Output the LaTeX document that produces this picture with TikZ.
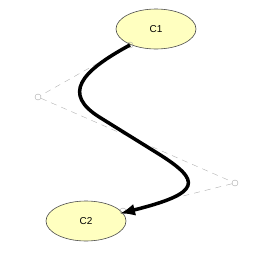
\documentclass[tikz,border=0pt]{standalone}
\usepackage{fontspec}
\setmainfont{Liberation Sans}
\usetikzlibrary{shapes.geometric,arrows.meta}
\definecolor{conceptfill}{RGB}{255,255,192}
\begin{document}
\begin{tikzpicture}[x=1pt,y=-1pt,>={Latex[length=15pt,width=12pt]}]

% --- Styles ---
\tikzset{
    concept/.style={ellipse, draw=black!70, fill=conceptfill, semithick,
        minimum width=80pt, minimum height=40pt, inner sep=0pt,
        font=\fontsize{10}{12}\selectfont},
    handle/.style={circle, draw=black!35, inner sep=0pt, minimum size=6pt},
    polygon/.style={draw=black!30, dash pattern=on 6pt off 5pt},
    curvearrow/.style={->, line width=3.5pt, draw=black}
}

% --- Canvas ---
\useasboundingbox (0,0) rectangle (260,265);

% --- Concepts ---
\node[concept] (c1) at (156,29) {C1};
\node[concept] (c2) at (86,221) {C2};

% --- Control handles ---
\node[handle] (k0) at (130,45) {};
\node[handle] (k1) at (38,97) {};
\node[handle] (k2) at (235,183) {};
\node[handle] (k3) at (123,211) {};

% Control polygon (dashed)
\draw[polygon] (k0) -- (k1) -- (k2) -- (k3);

% --- Curved connector C1 -> C2 ---
\coordinate (m1) at (100,117.5);
\coordinate (m2) at (158,153.5);
\coordinate (tip) at (120,213.5);
\draw[curvearrow] (k0.center) .. controls (80,72) and (62,94) .. (m1)
    -- (m2) .. controls (202,181) and (202,193) .. (tip);

\end{tikzpicture}
\end{document}
